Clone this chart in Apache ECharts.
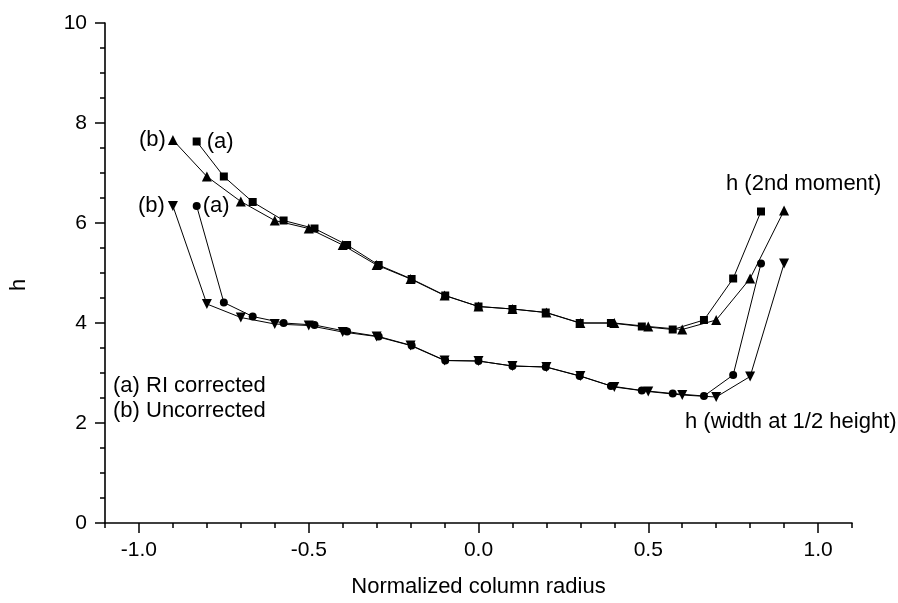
<!DOCTYPE html>
<html>
<head>
<meta charset="utf-8">
<script src="https://cdn.jsdelivr.net/npm/echarts@6/dist/echarts.min.js"></script>
<style>html,body{margin:0;padding:0;background:#fff}#c{width:898px;height:603px}</style>
</head>
<body>
<div id="c"></div>
<script>
// Radial positions: (b) uncorrected, (a) RI corrected
var radiusB = [-0.9, -0.8, -0.7, -0.6, -0.5, -0.4, -0.3, -0.2, -0.1, 0.0, 0.1, 0.2, 0.3, 0.4, 0.5, 0.6, 0.7, 0.8, 0.9];
var radiusA = [-0.83, -0.75, -0.665, -0.574, -0.483, -0.387, -0.294, -0.197, -0.098, 0.0, 0.1, 0.198, 0.298, 0.39, 0.481, 0.572, 0.664, 0.75, 0.832];
// h (2nd moment)
var momentA = [7.63, 6.93, 6.42, 6.05, 5.89, 5.56, 5.16, 4.88, 4.55, 4.33, 4.28, 4.21, 4.00, 4.00, 3.93, 3.87, 4.06, 4.89, 6.23];
var momentB = [7.66, 6.93, 6.43, 6.05, 5.89, 5.56, 5.16, 4.88, 4.55, 4.33, 4.28, 4.21, 4.00, 4.00, 3.93, 3.87, 4.06, 4.89, 6.25];
// h (width at 1/2 height)
var widthA = [6.34, 4.41, 4.13, 4.00, 3.96, 3.83, 3.73, 3.55, 3.25, 3.24, 3.14, 3.12, 2.94, 2.74, 2.65, 2.59, 2.54, 2.96, 5.19];
var widthB = [6.34, 4.38, 4.11, 3.98, 3.95, 3.82, 3.73, 3.55, 3.25, 3.24, 3.14, 3.12, 2.94, 2.72, 2.63, 2.56, 2.52, 2.93, 5.19];
var majorX = [-1.0, -0.5, 0.0, 0.5, 1.0];
var xTitle = 'Normalized column radius';
var yTitle = 'h';

var FONT = 'Arial, "Liberation Sans", Helvetica, sans-serif';

function pairs(xs, ys, firstLabel, pos, dist) {
  return xs.map(function (x, i) {
    var d = { value: [x, ys[i]] };
    if (i === 0 && firstLabel) {
      d.label = { show: true, formatter: firstLabel, position: pos, distance: dist,
        color: '#000', fontSize: 22, fontFamily: FONT };
    }
    return d;
  });
}

function series(name, data, symbol, size, rotate) {
  return {
    name: name, type: 'line', xAxisIndex: 0, yAxisIndex: 0,
    data: data, symbol: symbol, symbolSize: size, symbolRotate: rotate || 0,
    showAllSymbol: true,
    lineStyle: { color: '#000', width: 1 },
    itemStyle: { color: '#000' },
    emphasis: { disabled: true }, animation: false, z: 3
  };
}

var chart = echarts.init(document.getElementById('c'));
chart.setOption({
  backgroundColor: '#fff',
  animation: false,
  grid: { left: 103, right: 46, top: 23, bottom: 77 },
  xAxis: [{
    type: 'value', min: -1.1, max: 1.1, interval: 0.1,
    axisLine: { show: true, onZero: false, lineStyle: { color: '#000', width: 1.6 } },
    axisTick: { show: true, length: 5, lineStyle: { color: '#000', width: 1.5 } },
    axisLabel: { show: false },
    splitLine: { show: false },
    name: xTitle, nameLocation: 'middle', nameGap: 53,
    nameTextStyle: { color: '#000', fontSize: 22, fontFamily: FONT }
  }, {
    type: 'value', min: -1.1, max: 1.1, position: 'bottom',
    axisLine: { show: false, onZero: false },
    axisTick: { show: true, length: 10, customValues: majorX, lineStyle: { color: '#000', width: 1.5 } },
    axisLabel: { show: true, customValues: majorX, margin: 17, color: '#000', fontSize: 21, fontFamily: FONT,
      formatter: function (v) { return v.toFixed(1); } },
    splitLine: { show: false }
  }],
  yAxis: [{
    type: 'value', min: 0, max: 10, interval: 2,
    axisLine: { show: true, onZero: false, lineStyle: { color: '#000', width: 1.6 } },
    axisTick: { show: true, length: 10, lineStyle: { color: '#000', width: 1.5 } },
    minorTick: { show: true, splitNumber: 4, length: 5, lineStyle: { color: '#000', width: 1.5 } },
    axisLabel: { margin: 18, color: '#000', fontSize: 21, fontFamily: FONT },
    splitLine: { show: false },
    name: yTitle, nameLocation: 'middle', nameRotate: 90, nameGap: 75,
    nameTextStyle: { color: '#000', fontSize: 22, fontFamily: FONT, padding: [0, 24, 0, 0] }
  }],
  series: [
    series('2nd moment (a)', pairs(radiusA, momentA, '(a)', 'right', 6), 'rect', 8),
    series('2nd moment (b)', pairs(radiusB, momentB, '(b)', 'left', 2), 'triangle', 10),
    series('width (a)', pairs(radiusA, widthA, '(a)', 'right', 2), 'circle', 8),
    series('width (b)', pairs(radiusB, widthB, '(b)', 'left', 3), 'triangle', 10, 180)
  ],
  graphic: [
    { type: 'text', left: 726, top: 173, style: { text: 'h (2nd moment)', fill: '#000', font: '22px ' + FONT } },
    { type: 'text', left: 685, top: 411, style: { text: 'h (width at 1/2 height)', fill: '#000', font: '22px ' + FONT } },
    { type: 'text', left: 113, top: 375, style: { text: '(a) RI corrected', fill: '#000', font: '22px ' + FONT } },
    { type: 'text', left: 113, top: 400, style: { text: '(b) Uncorrected', fill: '#000', font: '22px ' + FONT } }
  ]
});
</script>
</body>
</html>
